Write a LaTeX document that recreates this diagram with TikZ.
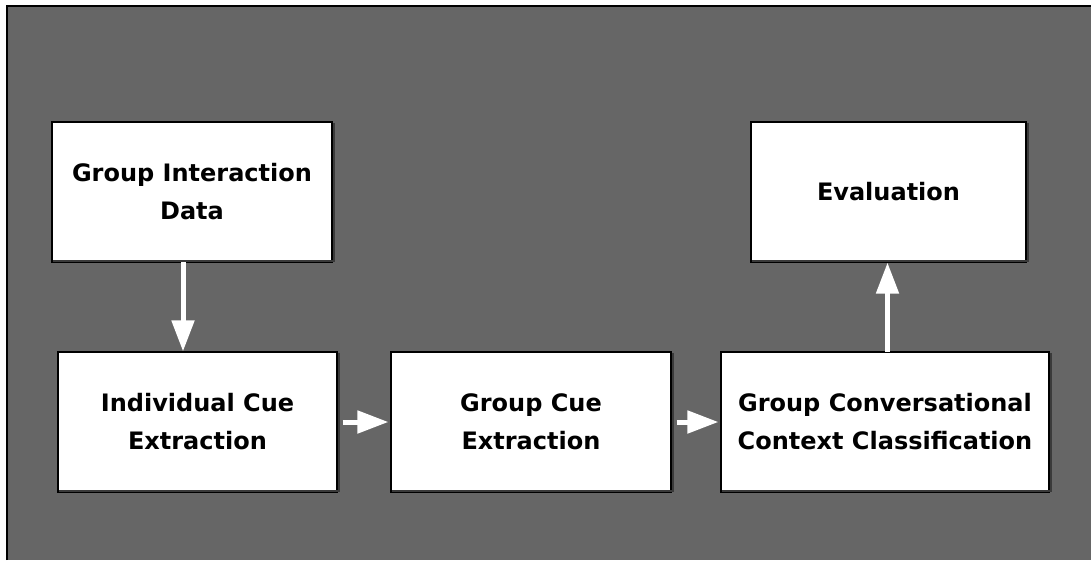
\documentclass[tikz,border=0pt]{standalone}
\usepackage{fontspec}
\setmainfont{DejaVu Sans}
\usetikzlibrary{arrows.meta}
\definecolor{panel}{HTML}{666666}
\definecolor{shade}{HTML}{3A3A3A}
\tikzset{
  stage/.style={draw=black, line width=1.2pt, fill=white, inner sep=0pt,
    align=center, font=\bfseries\fontsize{24}{38}\selectfont},
  flow/.style={draw=white, line width=5pt,
    -{Triangle[width=22pt,length=31pt]}},
  rim/.style={draw=shade, line width=1.5pt},
}
\begin{document}
\begin{tikzpicture}[x=1pt,y=-1pt]
  % canvas and grey panel
  \useasboundingbox (0,0) rectangle (1091,560);
  \fill[white] (0,0) rectangle (1091,560);
  \fill[panel] (7,6) rectangle (1091,560);
  \draw[black, line width=2pt] (7,560) -- (7,6) -- (1091,6);

  % processing stages
  \node[stage, minimum width=280pt, minimum height=140pt] (data) at (192,192)
    {Group Interaction\\Data};
  \node[stage, minimum width=279pt, minimum height=140pt] (indiv) at (197.5,422)
    {Individual Cue\\Extraction};
  \node[stage, minimum width=280pt, minimum height=140pt] (grp) at (531,422)
    {Group Cue\\Extraction};
  \node[stage, minimum width=328pt, minimum height=140pt] (ctx) at (885,422)
    {Group Conversational\\Context Classification};
  \node[stage, minimum width=275pt, minimum height=140pt] (eval) at (888.5,192)
    {Evaluation};

  % thin dark rim along the lower right of each stage
  \foreach \b in {data,indiv,grp,ctx,eval}{
    \draw[rim] ([xshift=1.5pt,yshift=-1.5pt]\b.north east)
      -- ([xshift=1.5pt,yshift=1.5pt]\b.south east)
      -- ([xshift=1.5pt,yshift=1.5pt]\b.south west);
  }

  % connectors
  \coordinate (a1) at (183,262);
  \draw[flow] (a1) -- (a1 |- indiv.north);
  \draw[flow, shorten <=5pt, shorten >=2pt] (indiv.east) -- (grp.west);
  \draw[flow, shorten <=5pt, shorten >=2pt] (grp.east) -- (ctx.west);
  \coordinate (a2) at (887.5,352);
  \draw[flow] (a2) -- (a2 |- eval.south);
\end{tikzpicture}
\end{document}
